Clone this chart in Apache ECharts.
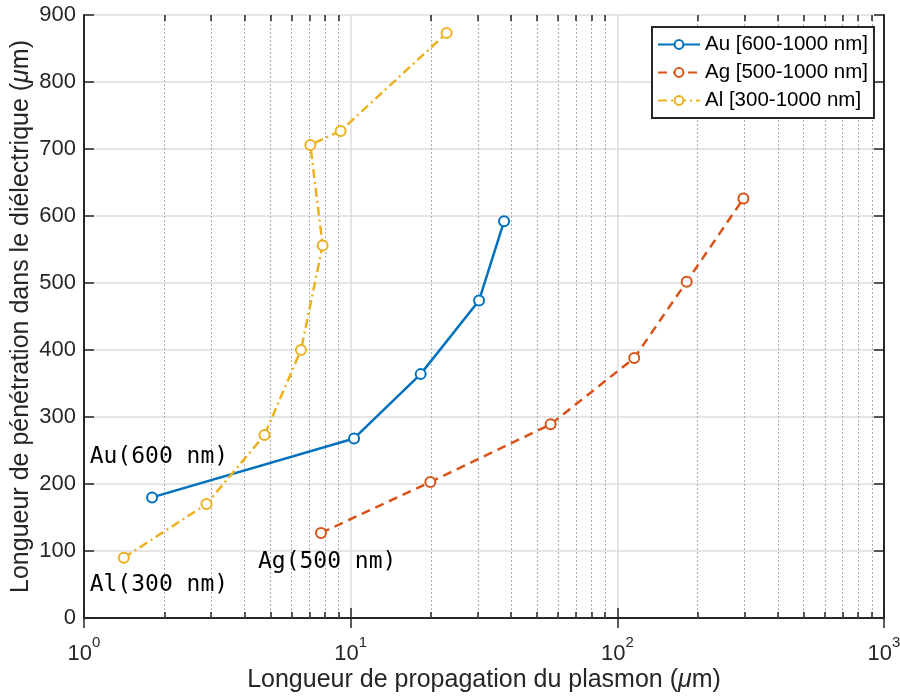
<!DOCTYPE html>
<html>
<head>
<meta charset="utf-8">
<script src="https://cdn.jsdelivr.net/npm/echarts@6/dist/echarts.min.js"></script>
<style>html,body{margin:0;background:#fff}#main{width:900px;height:699px}</style>
</head>
<body>
<div id="main"></div>
<script>
// data (x: propagation length, y: penetration depth, both µm)
var auX = [1.80, 10.3, 18.3, 30.3, 37.6];
var auY = [180, 268, 364, 474, 592];
var agX = [7.74, 19.9, 56.2, 115.7, 182, 297];
var agY = [127, 203, 289, 388, 502, 626];
var alX = [1.41, 2.88, 4.75, 6.51, 7.85, 7.06, 9.17, 22.9];
var alY = [90, 170, 273, 400, 556, 706, 727, 873];
var names = ['Au [600-1000 nm]', 'Ag [500-1000 nm]', 'Al [300-1000 nm]'];
var colors = ['#0072BD', '#D95319', '#EDB120'];
var noteText = ['Au(600 nm)', 'Ag(500 nm)', 'Al(300 nm)'];
var noteX = [1.05, 4.49, 1.05];
var noteY = [240, 84, 49];

var axisColor = '#262626';
var font = 'Liberation Sans, Arial, sans-serif';

function pairs(xs, ys) {
  return xs.map(function (x, i) { return [x, ys[i]]; });
}

// minor log gridlines / ticks 2..9 per decade
var minorX = [];
[1, 10, 100].forEach(function (d) {
  for (var m = 2; m <= 9; m++) minorX.push(m * d);
});
var minorGrid = minorX.map(function (v) { return { xAxis: v }; });
var minorTicks = [];
minorX.forEach(function (v) {
  minorTicks.push([{ coord: [v, 0] }, { coord: [v, 9] }]);
  minorTicks.push([{ coord: [v, 891] }, { coord: [v, 900] }]);
});

var myChart = echarts.init(document.getElementById('main'));

function mkSeries(i, data, dash) {
  return {
    name: names[i],
    type: 'line',
    data: data,
    symbol: 'emptyCircle',
    symbolSize: 10,
    color: colors[i],
    lineStyle: { width: 2.5, type: dash },
    itemStyle: { borderWidth: 2 },
    z: 5
  };
}

var titleRich = {
  a: { fontSize: 25, color: axisColor, fontFamily: font },
  m: { fontSize: 25, color: axisColor, fontFamily: font, fontStyle: 'italic' }
};

var option = {
  animation: false,
  backgroundColor: '#fff',
  grid: { left: 84, right: 16, top: 15, bottom: 81, outerBoundsMode: 'none' },
  legend: {
    orient: 'vertical',
    left: 652,
    top: 27,
    z: 30,
    padding: [7, 6, 7, 5],
    itemGap: 7,
    itemWidth: 42,
    itemHeight: 11,
    backgroundColor: '#fff',
    borderColor: axisColor,
    borderWidth: 2,
    borderRadius: 0,
    textStyle: { fontSize: 20.5, color: '#000', fontFamily: font },
    data: names
  },
  xAxis: [
    {
      type: 'log', logBase: 10, min: 1, max: 1000,
      name: '{a|Longueur de propagation du plasmon (}{m|μ}{a|m)}',
      nameLocation: 'middle', nameGap: 50, nameMoveOverlap: false,
      nameTextStyle: { rich: titleRich },
      axisLine: { show: true, lineStyle: { color: axisColor, width: 2 } },
      axisTick: { show: true, inside: true, length: 10, lineStyle: { color: axisColor, width: 1.5 } },
      axisLabel: {
        margin: 17,
        formatter: function (v) { return '{b|10}{s|' + Math.round(Math.log10(v)) + '}'; },
        rich: {
          b: { fontSize: 22, color: axisColor, fontFamily: font, lineHeight: 30, verticalAlign: 'bottom' },
          s: { fontSize: 15, color: axisColor, fontFamily: font, verticalAlign: 'top' }
        }
      },
      splitLine: { show: true, lineStyle: { color: '#dcdcdc', width: 1.5 } }
    },
    {
      type: 'log', logBase: 10, min: 1, max: 1000, position: 'top',
      axisLine: { show: true, lineStyle: { color: axisColor, width: 2 } },
      axisTick: { show: true, inside: true, length: 10, lineStyle: { color: axisColor, width: 1.5 } },
      axisLabel: { show: false },
      splitLine: { show: false }
    }
  ],
  yAxis: [
    {
      type: 'value', min: 0, max: 900, interval: 100,
      name: '{a|Longueur de pénétration dans le diélectrique (}{m|μ}{a|m)}',
      nameLocation: 'middle', nameGap: 50, nameMoveOverlap: false,
      nameTextStyle: { rich: titleRich },
      axisLine: { show: true, lineStyle: { color: axisColor, width: 2 } },
      axisTick: { show: true, inside: true, length: 10, lineStyle: { color: axisColor, width: 1.5 } },
      axisLabel: { fontSize: 22, color: axisColor, fontFamily: font, margin: 8 },
      splitLine: { show: true, lineStyle: { color: '#dcdcdc', width: 1.5 } }
    },
    {
      type: 'value', min: 0, max: 900, interval: 100, position: 'right',
      axisLine: { show: true, lineStyle: { color: axisColor, width: 2 } },
      axisTick: { show: true, inside: true, length: 10, lineStyle: { color: axisColor, width: 1.5 } },
      axisLabel: { show: false },
      splitLine: { show: false }
    }
  ],
  series: [
    mkSeries(0, pairs(auX, auY), 'solid'),
    mkSeries(1, pairs(agX, agY), [9, 6]),
    mkSeries(2, pairs(alX, alY), [9, 4, 2, 4]),
    {
      // minor grid + ticks
      type: 'line',
      data: [],
      silent: true,
      z: 1,
      markLine: {
        silent: true,
        symbol: 'none',
        label: { show: false },
        lineStyle: { color: '#adadad', width: 1, type: [2, 2] },
        data: minorGrid.concat(minorTicks.map(function (seg) {
          return [
            { coord: seg[0].coord, lineStyle: { color: axisColor, width: 1.5, type: 'solid' } },
            { coord: seg[1].coord }
          ];
        }))
      }
    }
  ]
};

myChart.setOption(option);

// annotation text placed through the axis scales
var notes = noteText.map(function (t, i) {
  var p = myChart.convertToPixel({ xAxisIndex: 0, yAxisIndex: 0 }, [noteX[i], noteY[i]]);
  return {
    type: 'text',
    x: p[0], y: p[1],
    z: 10,
    style: {
      text: t,
      fill: '#000',
      font: '23px "DejaVu Sans Mono", "Liberation Mono", monospace',
      textAlign: 'left',
      verticalAlign: 'middle'
    }
  };
});
myChart.setOption({ graphic: notes });
</script>
</body>
</html>
